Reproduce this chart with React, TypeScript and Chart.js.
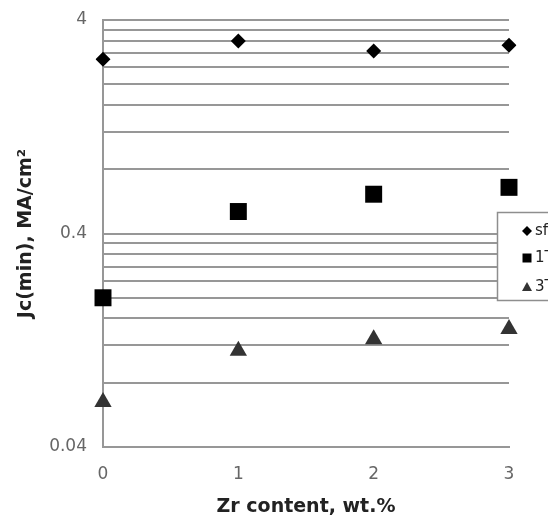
import React, { useEffect, useRef } from "react";
import { Chart, registerables } from "chart.js";

Chart.register(...registerables);

const categories = ["0", "1", "2", "3"];
const sfValues = [2.62, 3.19, 2.86, 3.05];
const t1Values = [0.2, 0.507, 0.611, 0.658];
const t3Values = [0.065, 0.113, 0.128, 0.143];
const seriesNames = ["sf", "1T", "3T"];
const labeledTicks = [0.04, 0.4, 4];
const gridSteps = [0.04, 0.4];

const FONT = "'DejaVu Sans', sans-serif";
const GRID = "#979797";

const legendPlugin = {
  id: "sideLegend",
  afterDraw(chart: any) {
    const ctx = chart.ctx;
    const left = 489;
    const top = 204;
    const bottom = 292;
    ctx.save();
    ctx.fillStyle = "#ffffff";
    ctx.fillRect(left, top, 200, bottom - top);
    ctx.strokeStyle = "#8e8e8e";
    ctx.lineWidth = 1.5;
    ctx.strokeRect(left + 0.5, top + 0.5, 200, bottom - top);
    const rows = [223, 250, 279];
    chart.data.datasets.forEach((ds: any, i: number) => {
      const cx = 519;
      const cy = rows[i];
      ctx.fillStyle = ds.backgroundColor;
      ctx.beginPath();
      if (ds.pointStyle === "rectRot") {
        ctx.moveTo(cx, cy - 5);
        ctx.lineTo(cx + 5, cy);
        ctx.lineTo(cx, cy + 5);
        ctx.lineTo(cx - 5, cy);
      } else if (ds.pointStyle === "rect") {
        ctx.rect(cx - 4.5, cy - 4.5, 9, 9);
      } else {
        ctx.moveTo(cx, cy - 5);
        ctx.lineTo(cx + 5, cy + 4);
        ctx.lineTo(cx - 5, cy + 4);
      }
      ctx.closePath();
      ctx.fill();
      ctx.fillStyle = "#222";
      ctx.font = `15px ${FONT}`;
      ctx.textBaseline = "middle";
      ctx.textAlign = "left";
      ctx.fillText(ds.label, 527, cy);
    });
    ctx.restore();
  },
};

export default function App() {
  const ref = useRef<HTMLCanvasElement>(null);
  useEffect(() => {
    const chart = new Chart(ref.current!, {
      type: "line",
      data: {
        labels: categories,
        datasets: [
          {
            label: seriesNames[0],
            data: sfValues,
            showLine: false,
            pointStyle: "rectRot",
            pointRadius: 7.5,
            backgroundColor: "#000000",
            borderColor: "#000000",
            borderWidth: 0,
          },
          {
            label: seriesNames[1],
            data: t1Values,
            showLine: false,
            pointStyle: "rect",
            pointRadius: 12,
            backgroundColor: "#000000",
            borderColor: "#000000",
            borderWidth: 0,
          },
          {
            label: seriesNames[2],
            data: t3Values,
            showLine: false,
            pointStyle: "triangle",
            pointRadius: 10,
            backgroundColor: "#333333",
            borderColor: "#333333",
            borderWidth: 0,
          },
        ],
      },
      options: {
        responsive: false,
        animation: false,
        devicePixelRatio: 1,
        layout: { padding: { top: 10, right: 47, left: 0, bottom: 0 } },
        plugins: { legend: { display: false }, tooltip: { enabled: false } },
        scales: {
          x: {
            type: "category",
            offset: false,
            grid: { display: false, drawTicks: false },
            border: { display: true, color: GRID, width: 2 },
            ticks: { padding: 17, color: "#666", font: { family: FONT, size: 17 } },
            title: {
              display: true,
              text: "Zr content, wt.%",
              color: "#222",
              font: { family: FONT, size: 19, weight: "bold", lineHeight: 1 },
              padding: { top: 0, bottom: 0.5 },
            },
            afterFit: (s: any) => {
              s.height = 70;
            },
          },
          y: {
            type: "logarithmic",
            min: 0.04,
            max: 4,
            grid: { color: GRID, lineWidth: 2, drawTicks: false },
            border: { display: true, color: GRID, width: 2 },
            afterBuildTicks: (s: any) => {
              const vals: number[] = [];
              gridSteps.forEach((step) => {
                for (let k = 1; k <= 10; k++) {
                  const v = +(step * k).toFixed(4);
                  if (!vals.some((w) => Math.abs(w - v) < 1e-9)) vals.push(v);
                }
              });
              s.ticks = vals.map((v) => ({ value: v }));
            },
            ticks: {
              autoSkip: false,
              padding: 16,
              color: "#666",
              font: { family: FONT, size: 17 },
              callback: (v: any) => {
                const n = Number(v);
                return labeledTicks.some((t) => Math.abs(t - n) < 1e-9) ? String(n) : "";
              },
            },
            title: {
              display: true,
              text: "Jc(min), MA/cm²",
              color: "#222",
              font: { family: FONT, size: 19, weight: "bold", lineHeight: 1 },
              padding: { top: 8.5, bottom: 0 },
            },
            afterFit: (s: any) => {
              s.width = 95;
              s.paddingTop = 0;
              s.paddingBottom = 0;
            },
          },
        },
      },
      plugins: [legendPlugin],
    });
    return () => chart.destroy();
  }, []);
  return <canvas ref={ref} width={548} height={509} style={{ display: "block" }} />;
}
